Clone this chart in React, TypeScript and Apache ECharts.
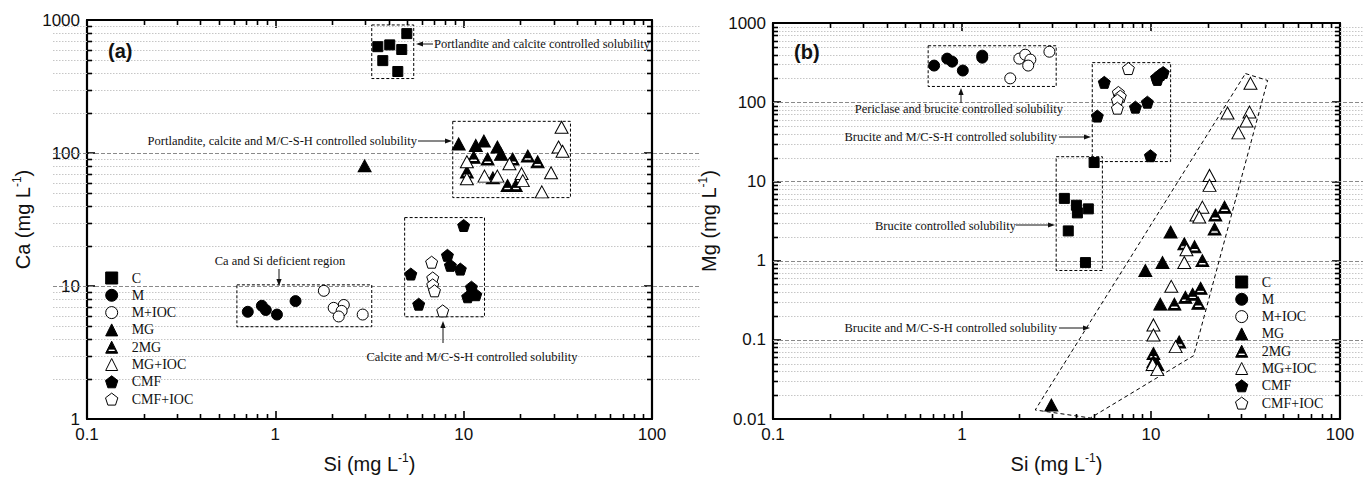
import React, { useEffect, useRef } from 'react';
import * as echarts from 'echarts';

// ---------- ticks ----------
const xTicks = [0.1, 1, 10, 100];
const xTickLabels = ['0.1', '1', '10', '100'];
const yTicksA = [1, 10, 100, 1000];
const yTickLabelsA = ['1', '10', '100', '1000'];
const yTicksB = [0.01, 0.1, 1, 10, 100, 1000];
const yTickLabelsB = ['0.01', '0.1', '1', '10', '100', '1000'];
const minorSteps = [2, 3, 4, 5, 6, 7, 8, 9];
const seriesNames = ['C', 'M', 'M+IOC', 'MG', '2MG', 'MG+IOC', 'CMF', 'CMF+IOC'];

// ---------- panel (a): Si vs Ca ----------
const aC = [[3.5, 630], [4.05, 650], [4.69, 600], [4.99, 790], [3.72, 495], [4.47, 410]];
const aM = [[0.714, 6.4], [0.848, 7.1], [0.89, 6.6], [1.02, 6.1], [1.28, 7.7]];
const aMIOC = [[1.81, 9.2], [2.04, 6.85], [2.31, 7.2], [2.25, 6.5], [2.17, 5.9], [2.91, 6.1]];
const aMG = [[2.98, 80], [9.41, 117], [11.6, 114], [12.8, 123], [15.1, 111], [15.8, 98]];
const a2MG = [[11.3, 93], [13.4, 90], [21.9, 95], [24.7, 86], [18.2, 90], [10.4, 72], [14.3, 65], [17.1, 57], [18.9, 57]];
const aMGIOC = [[33.1, 156], [31.9, 111], [33.5, 103], [10.4, 86], [12.9, 67], [15.1, 67], [17.5, 83], [20.3, 70], [29.1, 71], [26.0, 51], [10.4, 64], [20.6, 62]];
const aCMF = [[10.0, 28.5], [8.2, 17], [8.5, 14.3], [9.6, 13.4], [5.24, 12.3], [11.0, 9.8], [11.6, 8.6], [10.5, 8.3], [5.77, 7.3]];
const aCMFIOC = [[6.76, 15.1], [6.85, 11.5], [6.85, 10.2], [7.0, 9.2], [7.74, 6.5]];
const boxesA = [[3.25, 363, 5.43, 918], [8.75, 46.2, 36.9, 173], [0.625, 4.94, 3.25, 10.2], [4.86, 5.87, 12.9, 32.7]];

// ---------- panel (b): Si vs Mg ----------
const bC = [[5.0, 17.3], [3.48, 6.1], [4.03, 5.0], [4.08, 4.0], [4.66, 4.5], [3.65, 2.37], [4.5, 0.944]];
const bM = [[0.712, 290], [0.835, 355], [0.887, 325], [1.01, 251], [1.28, 387], [1.28, 365]];
const bMIOC = [[2.01, 355], [2.16, 398], [2.3, 345], [2.24, 290], [2.9, 434], [1.8, 200]];
const bMG = [[12.7, 2.3], [11.5, 0.944], [9.33, 0.75], [11.2, 0.282], [10.8, 0.0487], [2.97, 0.015]];
const b2MG = [[24.5, 4.73], [21.9, 3.76], [21.7, 2.51], [15.0, 1.63], [17.0, 1.5], [18.7, 1.0], [18.3, 0.447], [16.6, 0.376], [15.2, 0.345], [13.3, 0.282], [17.8, 0.29], [14.1, 0.094], [10.3, 0.067], [10.3, 0.053]];
const bMGIOC = [[33.6, 173], [25.4, 72.9], [33.2, 75], [32.0, 57.9], [29.0, 41.0], [20.4, 11.9], [20.4, 8.91], [18.7, 4.73], [17.4, 3.76], [18.0, 3.55], [15.4, 1.37], [15.0, 0.944], [12.8, 0.473], [10.3, 0.154], [10.3, 0.115], [13.5, 0.082], [10.2, 0.0487], [10.8, 0.042]];
const bCMF = [[5.66, 178], [5.2, 66.8], [8.27, 86.6], [9.57, 100], [10.7, 205], [11.2, 224], [11.6, 237], [9.93, 21.1], [10.8, 194]];
const bCMFIOC = [[7.59, 266], [6.72, 133], [6.88, 119], [6.64, 106], [6.64, 84.1]];
const boxesB = [[0.662, 158, 3.15, 516], [4.89, 17.8, 12.7, 316], [3.15, 0.75, 5.53, 20.5]];
const polygonB = [[31.6, 230], [41.4, 188], [16.8, 0.063], [4.78, 0.0103], [2.44, 0.013]];

// ---------- styles ----------
const SANS = 'Liberation Sans, Arial, sans-serif';
const SERIF = 'Liberation Serif, Times New Roman, serif';
const SQUARE = 'path://M0 0L100 0L100 100L0 100Z';
const CIRCLE = 'path://M50 0A50 50 0 1 1 50 100A50 50 0 1 1 50 0Z';
const TRI = 'path://M50 0L100 100L0 100Z';
const TRI2 = 'path://M50 0L100 100L0 100Z M26 66L16 86L84 86L74 66Z';
const PENT = 'path://M50 0L97.6 36.5L79.4 92.5L20.6 92.5L2.4 36.5Z';

const markerStyle: Record<string, { symbol: string; size: number[]; fill: string }> = {
  'C': { symbol: SQUARE, size: [10, 10], fill: '#000' },
  'M': { symbol: CIRCLE, size: [11, 11], fill: '#000' },
  'M+IOC': { symbol: CIRCLE, size: [11, 11], fill: '#fff' },
  'MG': { symbol: TRI, size: [13, 12], fill: '#000' },
  '2MG': { symbol: TRI2, size: [13, 12], fill: '#000' },
  'MG+IOC': { symbol: TRI, size: [13, 12], fill: '#fff' },
  'CMF': { symbol: PENT, size: [12, 12], fill: '#000' },
  'CMF+IOC': { symbol: PENT, size: [12, 12], fill: '#fff' },
};

function fmt(ticks: number[], labels: string[]) {
  return (v: number) => {
    let best = -1, bd = 1e9;
    ticks.forEach((t, i) => {
      const d = Math.abs(Math.log10(t) - Math.log10(v));
      if (d < bd) { bd = d; best = i; }
    });
    return bd < 1e-3 ? labels[best] : '';
  };
}

const nameRich = {
  n: { fontSize: 20, fontFamily: SANS, color: '#111', lineHeight: 24 },
  s: { fontSize: 12, fontFamily: SANS, color: '#111', lineHeight: 14, verticalAlign: 'top' },
};

function axis(gridIndex: number, position: string, ticks: number[], labels: string[], show: boolean, name?: string, nameGap?: number) {
  return {
    type: 'log', logBase: 10, gridIndex, position,
    min: ticks[0], max: ticks[ticks.length - 1],
    axisLine: { show: true, onZero: false, lineStyle: { color: '#000', width: 2.2 } },
    axisTick: { show: true, inside: true, length: 8, lineStyle: { color: '#000', width: 1.6 } },
    axisLabel: { show, margin: 7, fontSize: 17, color: '#111', fontFamily: SANS, formatter: fmt(ticks, labels), showMinLabel: true, showMaxLabel: true },
    splitLine: { show: false },
    name: name || '', nameLocation: 'middle', nameGap: nameGap || 0,
    nameTextStyle: { fontFamily: SANS, fontSize: 20, color: '#111', rich: nameRich },
  };
}

function scatter(name: string, data: number[][], idx: number) {
  const st = markerStyle[name];
  return {
    type: 'scatter', name, xAxisIndex: idx, yAxisIndex: idx, data,
    symbol: st.symbol, symbolSize: st.size, z: 5,
    itemStyle: { color: st.fill, borderColor: '#000', borderWidth: 1, opacity: 1 },
  };
}

function hLines(idx: number, yTicks: number[], extL: number, extR: number) {
  const vals: number[][] = [];
  yTicks.forEach((t, i) => {
    if (i > 0 && i < yTicks.length - 1) vals.push([xTicks[0], t, 1]);
    if (i < yTicks.length - 1) minorSteps.forEach((m) => vals.push([xTicks[0], t * m, 0]));
  });
  return {
    type: 'custom', xAxisIndex: idx, yAxisIndex: idx, silent: true, clip: false, z: 1,
    data: vals,
    renderItem: (params: any, api: any) => {
      const cs = params.coordSys;
      const y = Math.round(api.coord([api.value(0), api.value(1)])[1]) + 0.5;
      const major = api.value(2) === 1;
      const children: any[] = [{
        type: 'line', shape: { x1: cs.x - extL, y1: y, x2: cs.x + cs.width + extR, y2: y },
        style: { stroke: major ? '#8a8a8a' : '#c6c6c6', lineWidth: 1, lineDash: major ? [4, 2] : [1.5, 1.5] },
      }];
      if (!major) {
        children.push({ type: 'line', shape: { x1: cs.x, y1: y, x2: cs.x + 5, y2: y }, style: { stroke: '#000', lineWidth: 1.6 } });
        children.push({ type: 'line', shape: { x1: cs.x + cs.width - 5, y1: y, x2: cs.x + cs.width, y2: y }, style: { stroke: '#000', lineWidth: 1.6 } });
      }
      return { type: 'group', children };
    },
  };
}

function xMinor(idx: number, yMin: number) {
  const vals: number[][] = [];
  xTicks.forEach((t, i) => {
    if (i < xTicks.length - 1) minorSteps.forEach((m) => vals.push([t * m, yMin]));
  });
  return {
    type: 'custom', xAxisIndex: idx, yAxisIndex: idx, silent: true, clip: false, z: 6,
    data: vals,
    renderItem: (params: any, api: any) => {
      const cs = params.coordSys;
      const x = Math.round(api.coord([api.value(0), api.value(1)])[0]) + 0.5;
      return {
        type: 'group', children: [
          { type: 'line', shape: { x1: x, y1: cs.y + cs.height, x2: x, y2: cs.y + cs.height - 5 }, style: { stroke: '#000', lineWidth: 1.6 } },
          { type: 'line', shape: { x1: x, y1: cs.y, x2: x, y2: cs.y + 5 }, style: { stroke: '#000', lineWidth: 1.6 } },
        ],
      };
    },
  };
}

function boxes(idx: number, data: number[][]) {
  return {
    type: 'custom', xAxisIndex: idx, yAxisIndex: idx, silent: true, clip: false, z: 3,
    data,
    renderItem: (params: any, api: any) => {
      const a = api.coord([api.value(0), api.value(1)]);
      const b = api.coord([api.value(2), api.value(3)]);
      return {
        type: 'rect',
        shape: { x: Math.min(a[0], b[0]), y: Math.min(a[1], b[1]), width: Math.abs(b[0] - a[0]), height: Math.abs(b[1] - a[1]) },
        style: { fill: 'none', stroke: '#000', lineWidth: 1, lineDash: [3, 2] },
      };
    },
  };
}

function txt(x: number, y: number, text: string, align: string, font?: string) {
  return {
    type: 'text', x, y, z: 20,
    style: { text, fill: '#111', font: font || `12.5px ${SERIF}`, textAlign: align, textVerticalAlign: 'middle' },
  };
}

function arrow(x1: number, y1: number, x2: number, y2: number) {
  const dx = x2 - x1, dy = y2 - y1;
  const L = Math.sqrt(dx * dx + dy * dy);
  const ux = dx / L, uy = dy / L, px = -uy, py = ux;
  const hl = 7, hw = 2.6;
  return [
    { type: 'line', z: 20, shape: { x1, y1, x2: x2 - ux * hl * 0.6, y2: y2 - uy * hl * 0.6 }, style: { stroke: '#111', lineWidth: 1 } },
    {
      type: 'polygon', z: 20,
      shape: { points: [[x2, y2], [x2 - ux * hl + px * hw, y2 - uy * hl + py * hw], [x2 - ux * hl - px * hw, y2 - uy * hl - py * hw]] },
      style: { fill: '#111' },
    },
  ];
}

function legend(left: number, top: number) {
  return {
    left, top, orient: 'vertical', itemWidth: 30, itemHeight: 12, itemGap: 3.3,
    selectedMode: false, symbolKeepAspect: true,
    data: seriesNames.map((n) => ({ name: n, icon: markerStyle[n].symbol })),
    textStyle: { fontFamily: SERIF, fontSize: 14, color: '#111', lineHeight: 14 },
    itemStyle: { borderColor: '#000', borderWidth: 1 },
  };
}

function buildOption() {
  const dataA = [aC, aM, aMIOC, aMG, a2MG, aMGIOC, aCMF, aCMFIOC];
  const dataB = [bC, bM, bMIOC, bMG, b2MG, bMGIOC, bCMF, bCMFIOC];
  const series: any[] = [
    hLines(0, yTicksA, 34, 48),
    hLines(1, yTicksB, 0, 23),
    xMinor(0, yTicksA[0]),
    xMinor(1, yTicksB[0]),
    boxes(0, boxesA),
    boxes(1, boxesB),
    {
      type: 'line', xAxisIndex: 1, yAxisIndex: 1, silent: true, symbol: 'none', z: 3,
      data: [...polygonB, polygonB[0]],
      lineStyle: { color: '#000', width: 1, type: [4, 3] },
    },
  ];
  seriesNames.forEach((n, i) => series.push(scatter(n, dataA[i], 0)));
  seriesNames.forEach((n, i) => series.push(scatter(n, dataB[i], 1)));

  const graphic: any[] = [
    txt(108, 51, '(a)', 'left', `bold 20px ${SANS}`),
    txt(434, 44, 'Portlandite and calcite controlled solubility', 'left'),
    ...arrow(433, 44, 416, 44),
    txt(417, 141, 'Portlandite, calcite and M/C-S-H controlled solubility', 'right'),
    ...arrow(418, 141, 452, 141),
    txt(280, 261, 'Ca and Si deficient region', 'center'),
    ...arrow(279, 269, 279, 286),
    txt(472, 357, 'Calcite and M/C-S-H controlled solubility', 'center'),
    ...arrow(443, 343, 443, 321),
    txt(794, 52, '(b)', 'left', `bold 20px ${SANS}`),
    txt(1063, 109, 'Periclase and brucite controlled solubility', 'right'),
    ...arrow(961, 103, 961, 88),
    txt(1057, 137, 'Brucite and M/C-S-H controlled solubility', 'right'),
    ...arrow(1059, 137, 1091, 137),
    txt(875, 226, 'Brucite controlled solubility', 'left'),
    ...arrow(1016, 225, 1055, 225),
    txt(1057, 328, 'Brucite and M/C-S-H controlled solubility', 'right'),
    ...arrow(1059, 328, 1090, 328),
  ];

  return {
    animation: false,
    backgroundColor: '#fff',
    grid: [
      { left: 87, right: 711, top: 20, bottom: 57 },
      { left: 773, right: 23, top: 23, bottom: 56 },
    ],
    xAxis: [
      axis(0, 'bottom', xTicks, xTickLabels, true, '{n|Si (mg L}{s|-1}{n|)}', 33),
      axis(1, 'bottom', xTicks, xTickLabels, true, '{n|Si (mg L}{s|-1}{n|)}', 33),
      axis(0, 'top', xTicks, xTickLabels, false),
      axis(1, 'top', xTicks, xTickLabels, false),
    ],
    yAxis: [
      axis(0, 'left', yTicksA, yTickLabelsA, true, '{n|Ca (mg L}{s|-1}{n|)}', 52),
      axis(1, 'left', yTicksB, yTickLabelsB, true, '{n|Mg (mg L}{s|-1}{n|)}', 52),
      axis(0, 'right', yTicksA, yTickLabelsA, false),
      axis(1, 'right', yTicksB, yTickLabelsB, false),
    ],
    legend: [legend(100, 266), legend(1230, 270)],
    series,
    graphic,
  };
}

export default function App() {
  const ref = useRef<HTMLDivElement>(null);
  useEffect(() => {
    const chart = echarts.init(ref.current!, null, { renderer: 'svg' });
    chart.setOption(buildOption() as any);
    return () => chart.dispose();
  }, []);
  return <div ref={ref} style={{ position: 'fixed', left: 0, top: 0, width: 1363, height: 479, background: '#fff' }} />;
}
